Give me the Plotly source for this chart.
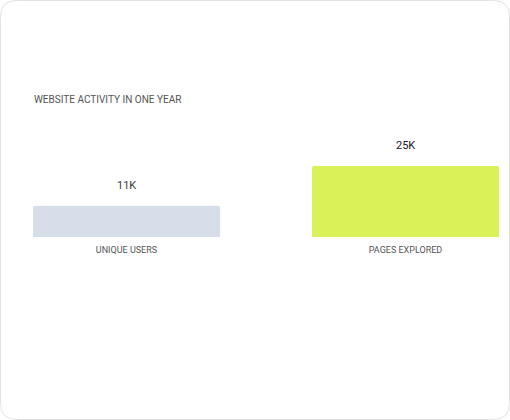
import plotly.graph_objects as go

categories = ["UNIQUE USERS", "PAGES EXPLORED"]
values = [11000, 25000]
value_labels = ["11K", "25K"]
colors = ["#d6deea", "#daf157"]
label_colors = ["#3a3a3a", "#161628"]
title_text = "WEBSITE ACTIVITY IN ONE YEAR"

W, H = 510, 420
ml, mr, mt, mb = 33, 11, 110, 183
plot_w = W - ml - mr
plot_h = H - mt - mb
ymax = max(values) * plot_h / 71.0

FONT = "Roboto, sans-serif"

fig = go.Figure(go.Bar(
    x=list(range(len(categories))), y=values,
    marker=dict(color=colors, line=dict(width=0), cornerradius=2),
    width=0.67, hoverinfo="skip",
))

for i, (v, t, c) in enumerate(zip(values, value_labels, label_colors)):
    fig.add_annotation(x=i, y=v, text=t, showarrow=False, yanchor="bottom",
                       yshift=12, font=dict(size=11, color=c, family=FONT))

fig.add_annotation(xref="paper", yref="paper", x=0, y=(H - mb - 100) / plot_h,
                   xanchor="left", yanchor="middle", text=title_text, showarrow=False,
                   xshift=-1, font=dict(size=10, color="#555555", family=FONT))

# card border (rounded rectangle), converted from pixels to paper coords
def px(xp):
    return (xp - ml) / plot_w
def py(yp):
    return (H - mb - yp) / plot_h
x0, x1, y0, y1, r = 0.5, 509.5, 0.5, 419.5, 16
path = (f"M {px(x0+r)},{py(y0)} L {px(x1-r)},{py(y0)} Q {px(x1)},{py(y0)} {px(x1)},{py(y0+r)} "
        f"L {px(x1)},{py(y1-r)} Q {px(x1)},{py(y1)} {px(x1-r)},{py(y1)} "
        f"L {px(x0+r)},{py(y1)} Q {px(x0)},{py(y1)} {px(x0)},{py(y1-r)} "
        f"L {px(x0)},{py(y0+r)} Q {px(x0)},{py(y0)} {px(x0+r)},{py(y0)} Z")
fig.add_shape(type="path", xref="paper", yref="paper", path=path,
              line=dict(color="#e2e2e2", width=1), layer="below")

fig.update_layout(
    width=W, height=H, margin=dict(l=ml, r=mr, t=mt, b=mb),
    paper_bgcolor="white", plot_bgcolor="white", showlegend=False,
    xaxis=dict(range=[-0.335, 1.335], tickmode="array", tickvals=list(range(len(categories))),
               ticktext=categories, showgrid=False, zeroline=False, showline=False,
               ticks="", ticklabelstandoff=6,
               tickfont=dict(size=9, color="#555555", family=FONT), fixedrange=True),
    yaxis=dict(range=[0, ymax], visible=False, fixedrange=True),
)

fig.write_html("out.html", config={"displayModeBar": False},
               post_script="document.body.style.margin='0';document.body.style.overflow='hidden';")
